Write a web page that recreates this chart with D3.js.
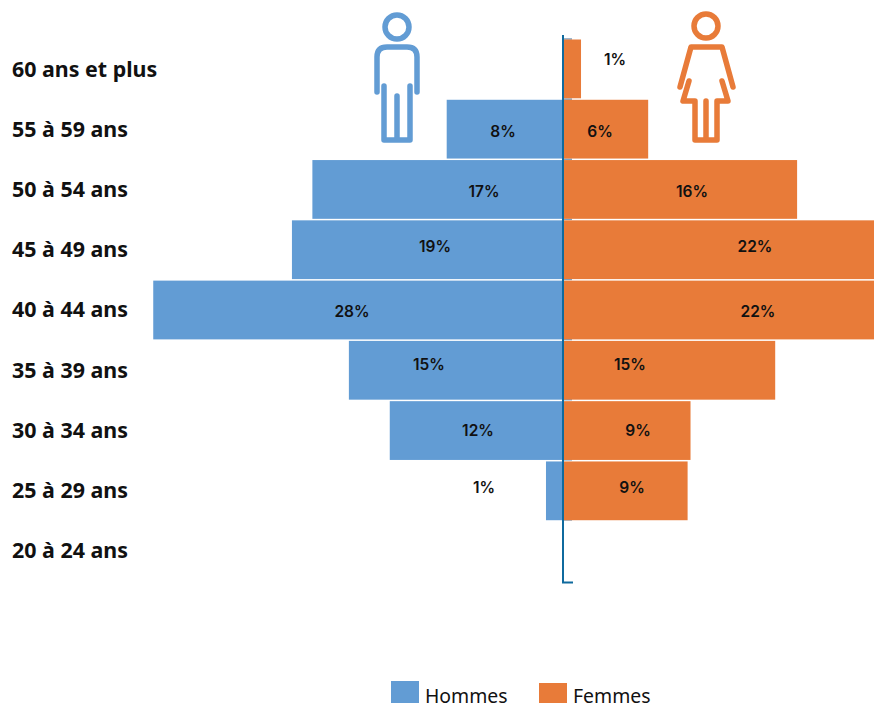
<!DOCTYPE html>
<html><head><meta charset="utf-8">
<script src="https://cdnjs.cloudflare.com/ajax/libs/d3/7.8.5/d3.min.js"></script>
<style>html,body{margin:0;padding:0;background:#fff;overflow:hidden}svg{display:block}</style>
</head><body><svg id="c" width="874" height="703"></svg>
<script>
const categories = ["60 ans et plus","55 à 59 ans","50 à 54 ans","45 à 49 ans","40 à 44 ans","35 à 39 ans","30 à 34 ans","25 à 29 ans","20 à 24 ans"];
const hommes = [0,8,17.2,18.6,28.1,14.7,11.9,1.2,0];
const femmes = [1.2,5.8,16,22,22,14.5,8.7,8.5,0];
const hommesLabels = [null,"8%","17%","19%","28%","15%","12%","1%",null];
const femmesLabels = ["1%","6%","16%","22%","22%","15%","9%","9%",null];
// label placement, separate from the data
const hommesLabelX = [null,503,484,435,352,429,478,484,null];
const hommesLabelY = [null,132,192,247,312,365,431,488,null];
const femmesLabelX = [615,600,692,755,758,630,638,632,null];
const femmesLabelY = [60,132,192,247,312,365,431,488,null];

const blue="#629cd4", orange="#e87b39", axisCol="#0f6a9e";
const svg=d3.select("#c");
const x=d3.scaleLinear().domain([-30,30]).range([563.5-438,563.5+438]);
const y=d3.scaleBand().domain(categories).range([39.5,580.5]).paddingInner(0.025).paddingOuter(0.0);
const rowY=d3.scaleBand().domain(categories).range([39.5,580.5]);

// hidden-behind ticks to the right of the axis
svg.append("g").selectAll("line").data(d3.range(0,9)).join("line")
 .attr("x1",563).attr("x2",572)
 .attr("y1",i=>rowY.step()*i+39).attr("y2",i=>rowY.step()*i+39)
 .attr("stroke","#7f9fbd").attr("stroke-width",1.5);

svg.append("g").selectAll("rect").data(categories).join("rect")
 .attr("x",d=>x(-hommes[categories.indexOf(d)])).attr("y",d=>y(d))
 .attr("width",d=>x(0)-x(-hommes[categories.indexOf(d)])).attr("height",y.bandwidth()).attr("fill",blue);
svg.append("g").selectAll("rect").data(categories).join("rect")
 .attr("x",x(0)).attr("y",d=>y(d))
 .attr("width",d=>x(femmes[categories.indexOf(d)])-x(0)).attr("height",y.bandwidth()).attr("fill",orange);

// axis
svg.append("path").attr("d",`M563,35V582.5H573`).attr("fill","none").attr("stroke",axisCol).attr("stroke-width",2);

// categories
svg.append("g").selectAll("text").data(categories).join("text")
 .attr("x",12).attr("y",d=>rowY(d)+rowY.bandwidth()/2).attr("dy","0.35em")
 .attr("font-family","'Noto Sans'").attr("font-weight",700).attr("font-size",21.4).attr("textLength",null).attr("fill","#111").text(d=>d);

// value labels
function vals(labels,xs,ys){
 svg.append("g").selectAll("text").data(labels.map((t,i)=>({t,x:xs[i],y:ys[i]})).filter(d=>d.t)).join("text")
  .attr("x",d=>d.x).attr("y",d=>d.y).attr("dy","0.35em").attr("text-anchor","middle")
  .attr("font-family","Inter").attr("font-weight",600).attr("font-size",15.5).attr("fill","#111").text(d=>d.t);
}
vals(hommesLabels,hommesLabelX,hommesLabelY);
vals(femmesLabels,femmesLabelX,femmesLabelY);

// icons
const man=svg.append("g").attr("fill","none").attr("stroke",blue).attr("stroke-width",5.5).attr("stroke-linecap","round").attr("stroke-linejoin","round");
man.append("circle").attr("cx",397).attr("cy",27).attr("r",12);
man.append("path").attr("d","M377,92V57Q377,47,387,47H407Q417,47,417,57V92");
man.append("path").attr("d","M384,86V140H410V86M397,96V140");
const wom=svg.append("g").attr("fill","none").attr("stroke",orange).attr("stroke-width",5.5).attr("stroke-linecap","round").attr("stroke-linejoin","round");
wom.append("circle").attr("cx",706).attr("cy",26).attr("r",12);
wom.append("path").attr("d","M680,87L691,47H722L733,87");
wom.append("path").attr("d","M689,81L683,101H695V140H717V101H728L722,81M706,101V140");

// legend
const legend=[["Hommes",blue,391,681,425],["Femmes",orange,539,683,573]];
legend.forEach(([t,c,sx,sy,tx])=>{
 svg.append("rect").attr("x",sx).attr("y",sy).attr("width",28).attr("height",24).attr("fill",c);
 svg.append("text").attr("x",tx).attr("y",703).attr("font-family","'Noto Sans'").attr("font-size",19.4).attr("fill","#111").text(t);
});
</script></body></html>
